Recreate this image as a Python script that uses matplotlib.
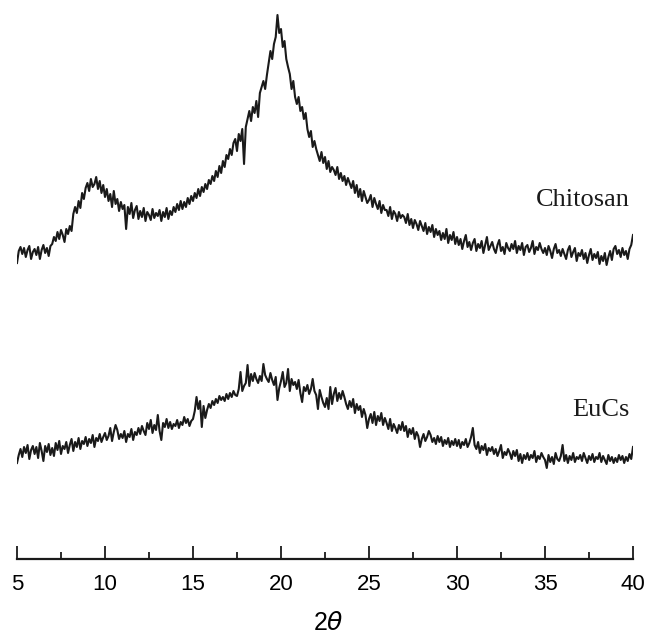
import numpy as np
from matplotlib import pyplot as plt

# 2-theta grid, one reading every 0.1 degree from 5 to 40
two_theta = np.round(np.arange(5.0, 40.05, 0.1), 1)

# chitosan trace (arbitrary intensity units), one row per degree
chitosan = [
    296, 308, 312, 305, 311, 302, 309, 313, 300, 307,
    310, 304, 312, 300, 309, 314, 306, 311, 303, 313,
    315, 322, 318, 327, 320, 329, 324, 317, 330, 325,
    333, 328, 345, 352, 346, 358, 351, 366, 360, 371,
    376, 368, 380, 372, 375, 382, 370, 378, 366, 374,
    362, 370, 358, 365, 352, 368, 355, 360, 348, 357,
    350, 354, 330, 352, 345, 356, 341, 349, 353, 340,
    348, 342, 351, 338, 347, 344, 339, 350, 341, 346,
    343, 349, 338, 347, 342, 351, 340, 348, 344, 352,
    347, 355, 349, 358, 350, 357, 352, 361, 355, 363,
    358, 366, 361, 370, 363, 372, 367, 375, 370, 379,
    375, 383, 378, 388, 382, 393, 386, 398, 392, 404,
    400, 410, 404, 416, 420, 408, 425, 418, 430, 395,
    432, 440, 448, 438, 452, 446, 458, 442, 466, 472,
    478, 470, 484, 496, 508, 500, 515, 522, 544, 526,
    530, 512, 518, 500, 492, 485, 470, 478, 462, 455,
    462, 448, 452, 440, 446, 430, 422, 428, 412, 418,
    410, 404, 398, 407, 396, 402, 390, 398, 387, 392,
    389, 384, 392, 380, 386, 378, 383, 374, 381, 376,
    371, 378, 366, 374, 362, 370, 358, 368, 362, 356,
    359, 364, 352, 361, 355, 350, 358, 346, 354, 349,
    349, 343, 352, 340, 348, 345, 338, 347, 341, 344,
    342, 336, 345, 334, 340, 331, 339, 335, 329, 338,
    333, 328, 336, 325, 332, 327, 334, 322, 330, 324,
    328, 319, 326, 320, 330, 316, 324, 319, 327, 315,
    322, 314, 320, 310, 318, 324, 312, 317, 309, 316,
    320, 308, 315, 311, 318, 306, 314, 322, 309, 313,
    317, 310, 306, 314, 319, 308, 312, 305, 316, 311,
    308, 315, 310, 318, 306, 313, 309, 316, 304, 312,
    314, 307, 311, 318, 305, 312, 309, 316, 310, 306,
    311, 304, 313, 308, 301, 310, 315, 306, 309, 303,
    310, 305, 300, 309, 313, 302, 307, 311, 298, 306,
    303, 309, 300, 306, 296, 304, 310, 299, 305, 301,
    307, 295, 303, 298, 306, 294, 302, 308, 299, 310,
    313, 305, 309, 302, 311, 304, 308, 300, 310, 314,
    324,
]

# EuCs trace, same grid
eucs = [
    96, 104, 110, 102, 112, 106, 114, 100, 109, 113,
    105, 112, 101, 116, 108, 98, 113, 107, 115, 104,
    111, 103, 116, 109, 118, 105, 113, 110, 117, 106,
    114, 120, 108, 117, 112, 121, 110, 118, 115, 122,
    113, 120, 116, 124, 112, 121, 118, 125, 117, 122,
    126, 119, 123, 131, 118, 127, 134, 129, 120, 125,
    121, 128, 117, 125, 122, 130, 119, 127, 124, 131,
    125, 133, 128, 124, 136, 130, 139, 126, 134, 129,
    144, 128, 119, 136, 132, 140, 131, 137, 130, 135,
    133, 139, 131, 137, 134, 142, 136, 140, 133, 138,
    140, 148, 162, 150, 158, 132, 153, 141, 149, 155,
    151, 158, 154, 160, 156, 163, 159, 162, 158, 165,
    160, 166, 162, 168, 164, 163, 170, 187, 168, 173,
    176, 194, 173, 185, 178, 186, 180, 176, 183, 178,
    195, 184, 180, 177, 186, 179, 174, 182, 159, 171,
    178, 187, 172, 176, 190, 168, 180, 174, 177, 170,
    179, 166, 157, 172, 168, 174, 165, 170, 180, 168,
    164, 150, 169, 162, 156, 152, 161, 150, 172, 155,
    165, 171, 158, 166, 160, 168, 162, 155, 150, 158,
    152, 160, 146, 155, 149, 153, 142, 150, 144, 131,
    140, 145, 136, 147, 134, 143, 138, 146, 134, 141,
    136, 130, 140, 128, 135, 131, 126, 134, 129, 137,
    128, 133, 122, 130, 125, 131, 120, 127, 123, 112,
    120, 125, 118, 122, 128, 124, 117, 121, 115, 123,
    117, 122, 113, 119, 115, 121, 112, 118, 114, 120,
    113, 119, 111, 117, 114, 120, 112, 116, 122, 131,
    114, 110, 117, 106, 113, 109, 115, 104, 111, 108,
    112, 105, 110, 103, 108, 114, 101, 107, 104, 110,
    106, 100, 108, 103, 109, 98, 105, 96, 104, 100,
    106, 99, 104, 101, 108, 97, 103, 100, 106, 102,
    99, 91, 104, 97, 102, 95, 106, 100, 98, 103,
    114, 98, 104, 96, 103, 99, 106, 97, 102, 100,
    104, 98, 106, 101, 96, 103, 99, 105, 97, 102,
    100, 106, 97, 103, 99, 95, 104, 98, 102, 96,
    101, 97, 104, 99, 103, 96, 102, 98, 105, 100,
    112,
]

major_ticks = [5, 10, 15, 20, 25, 30, 35, 40]
minor_ticks = [7.5, 12.5, 17.5, 22.5, 27.5, 32.5, 37.5]
tick_labels = ['5', '10', '15', '20', '25', '30', '35', '40']
series_names = ['Chitosan', 'EuCs']


def main():
    fig = plt.figure(figsize=(6.5, 6.39), dpi=100)
    ax = fig.add_axes([17 / 650, 80 / 639, 616 / 650, 559 / 639])

    # both traces, plain black
    ax.plot(two_theta, chitosan, color='#1a1a1a', lw=1.5)
    ax.plot(two_theta, eucs, color='#1a1a1a', lw=1.5)

    ax.set_xlim(5, 40)
    ax.set_ylim(0, 559)

    # only the bottom axis is drawn
    for side in ['left', 'top', 'right']:
        ax.spines[side].set_visible(False)
    ax.spines['bottom'].set_linewidth(1.6)
    ax.spines['bottom'].set_color('#1a1a1a')
    ax.set_yticks([])

    ax.set_xticks(major_ticks)
    ax.set_xticklabels(tick_labels, fontfamily='Liberation Sans', fontsize=16)
    ax.set_xticks(minor_ticks, minor=True)
    ax.tick_params(axis='x', which='major', direction='in', length=9.5,
                   width=1.3, pad=11, color='#1a1a1a')
    ax.tick_params(axis='x', which='minor', direction='in', length=5,
                   width=1.3, color='#1a1a1a')

    # curve names on the right
    ax.text(39.83, 359, series_names[0], ha='right', va='center',
            fontfamily='Liberation Serif', fontsize=19, color='#1a1a1a')
    ax.text(39.83, 149, series_names[1], ha='right', va='center',
            fontfamily='Liberation Serif', fontsize=19, color='#1a1a1a')

    # axis title, upright 2 and italic theta
    fig.text(328 / 650, 1 - 623 / 639, '2$\\mathit{\\theta}$', ha='center', va='center',
             fontfamily='Liberation Sans', fontsize=18)

    fig.savefig('out.png', dpi=100)


main()
